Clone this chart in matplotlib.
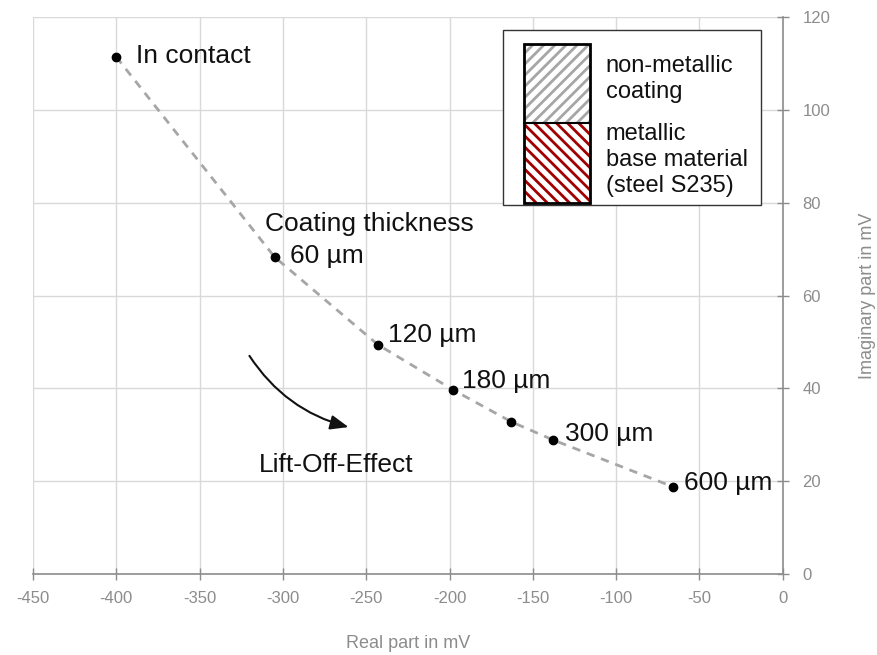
import matplotlib
matplotlib.use("Agg")
import matplotlib.pyplot as plt
from matplotlib.patches import Rectangle, FancyArrowPatch

# values
real_mv = [-400, -305, -243, -198, -163, -138, -66]
imag_mv = [111.4, 68.3, 49.4, 39.7, 32.8, 28.9, 18.8]
point_labels = ["In contact", "60 µm", "120 µm", "180 µm", "", "300 µm", "600 µm"]
label_offsets = [(20, 1), (15, 1), (10, 10), (9, 9), (0, 0), (12, 6), (11, 4)]
x_ticks = list(range(-450, 1, 50))
y_ticks = list(range(0, 121, 20))

plt.rcParams["font.family"] = ["Liberation Sans", "DejaVu Sans"]
plt.rcParams["axes.unicode_minus"] = False
plt.rcParams["hatch.linewidth"] = 2.0
gray = "#8c8c8c"

fig = plt.figure(figsize=(8.77, 6.55), dpi=100)
ax = fig.add_axes([0.0376, 0.1237, 0.855, 0.8503])

# dashed curve and points
ax.plot(real_mv, imag_mv, linestyle=(0, (3, 2.5)), color="#a6a6a6", linewidth=2, zorder=2)
ax.plot(real_mv, imag_mv, "o", color="black", markersize=6, zorder=3)

for x, y, lab, off in zip(real_mv, imag_mv, point_labels, label_offsets):
    if lab:
        ax.annotate(lab, (x, y), xytext=off, textcoords="offset pixels",
                    ha="left", va="center", fontsize=19, color="#111111")

ax.text(-311, 75.5, "Coating thickness", ha="left", va="center", fontsize=19, color="#111111")
ax.text(-268, 23.5, "Lift-Off-Effect", ha="center", va="center", fontsize=19, color="#111111")
arrow = FancyArrowPatch((-321, 47.5), (-259, 31.5), connectionstyle="arc3,rad=0.2",
                        arrowstyle="-|>,head_length=0.55,head_width=0.22",
                        mutation_scale=20, color="#111111", linewidth=1.5)
ax.add_patch(arrow)

# axes styling
ax.set_xlim(-450, 0)
ax.set_ylim(0, 120)
ax.set_xticks(x_ticks)
ax.set_yticks(y_ticks)
ax.yaxis.tick_right()
ax.yaxis.set_label_position("right")
ax.grid(True, color="#d9d9d9", linewidth=1)
ax.set_axisbelow(True)
for side in ["left", "top"]:
    ax.spines[side].set_visible(False)
for side in ["right", "bottom"]:
    ax.spines[side].set_color(gray)
    ax.spines[side].set_linewidth(1.2)
ax.tick_params(direction="inout", length=8, width=1, color=gray, labelcolor=gray, labelsize=12)
ax.tick_params(axis="x", pad=8)
ax.tick_params(axis="y", pad=10)
ax.set_xlabel("Real part in mV", color=gray, fontsize=13, labelpad=21)
ax.set_ylabel("Imaginary part in mV", color=gray, fontsize=13, labelpad=21)

# legend box drawn by hand
t = ax.transAxes
ax.add_patch(Rectangle((0.627, 0.6625), 0.344, 0.3145, transform=t, facecolor="white",
                       edgecolor="#333333", linewidth=1, zorder=4))
ax.add_patch(Rectangle((0.6547, 0.8097), 0.088, 0.1418, transform=t, facecolor="white",
                       edgecolor="#a6a6a6", linewidth=0, hatch="///", zorder=5))
ax.add_patch(Rectangle((0.6547, 0.666), 0.088, 0.1437, transform=t, facecolor="white",
                       edgecolor="#a00000", linewidth=0, hatch="\\\\\\", zorder=5))
ax.add_patch(Rectangle((0.6547, 0.666), 0.088, 0.2855, transform=t, fill=False,
                       edgecolor="black", linewidth=2, zorder=6))
ax.plot([0.6547, 0.7427], [0.8097, 0.8097], transform=t, color="black", linewidth=1.5, zorder=6)
ax.text(0.764, 0.889, "non-metallic\ncoating", transform=t, ha="left", va="center",
        fontsize=17, color="#111111", linespacing=1.22, zorder=7)
ax.text(0.764, 0.743, "metallic\nbase material\n(steel S235)", transform=t, ha="left",
        va="center", fontsize=17, color="#111111", linespacing=1.22, zorder=7)

fig.savefig("out.png", dpi=100)
